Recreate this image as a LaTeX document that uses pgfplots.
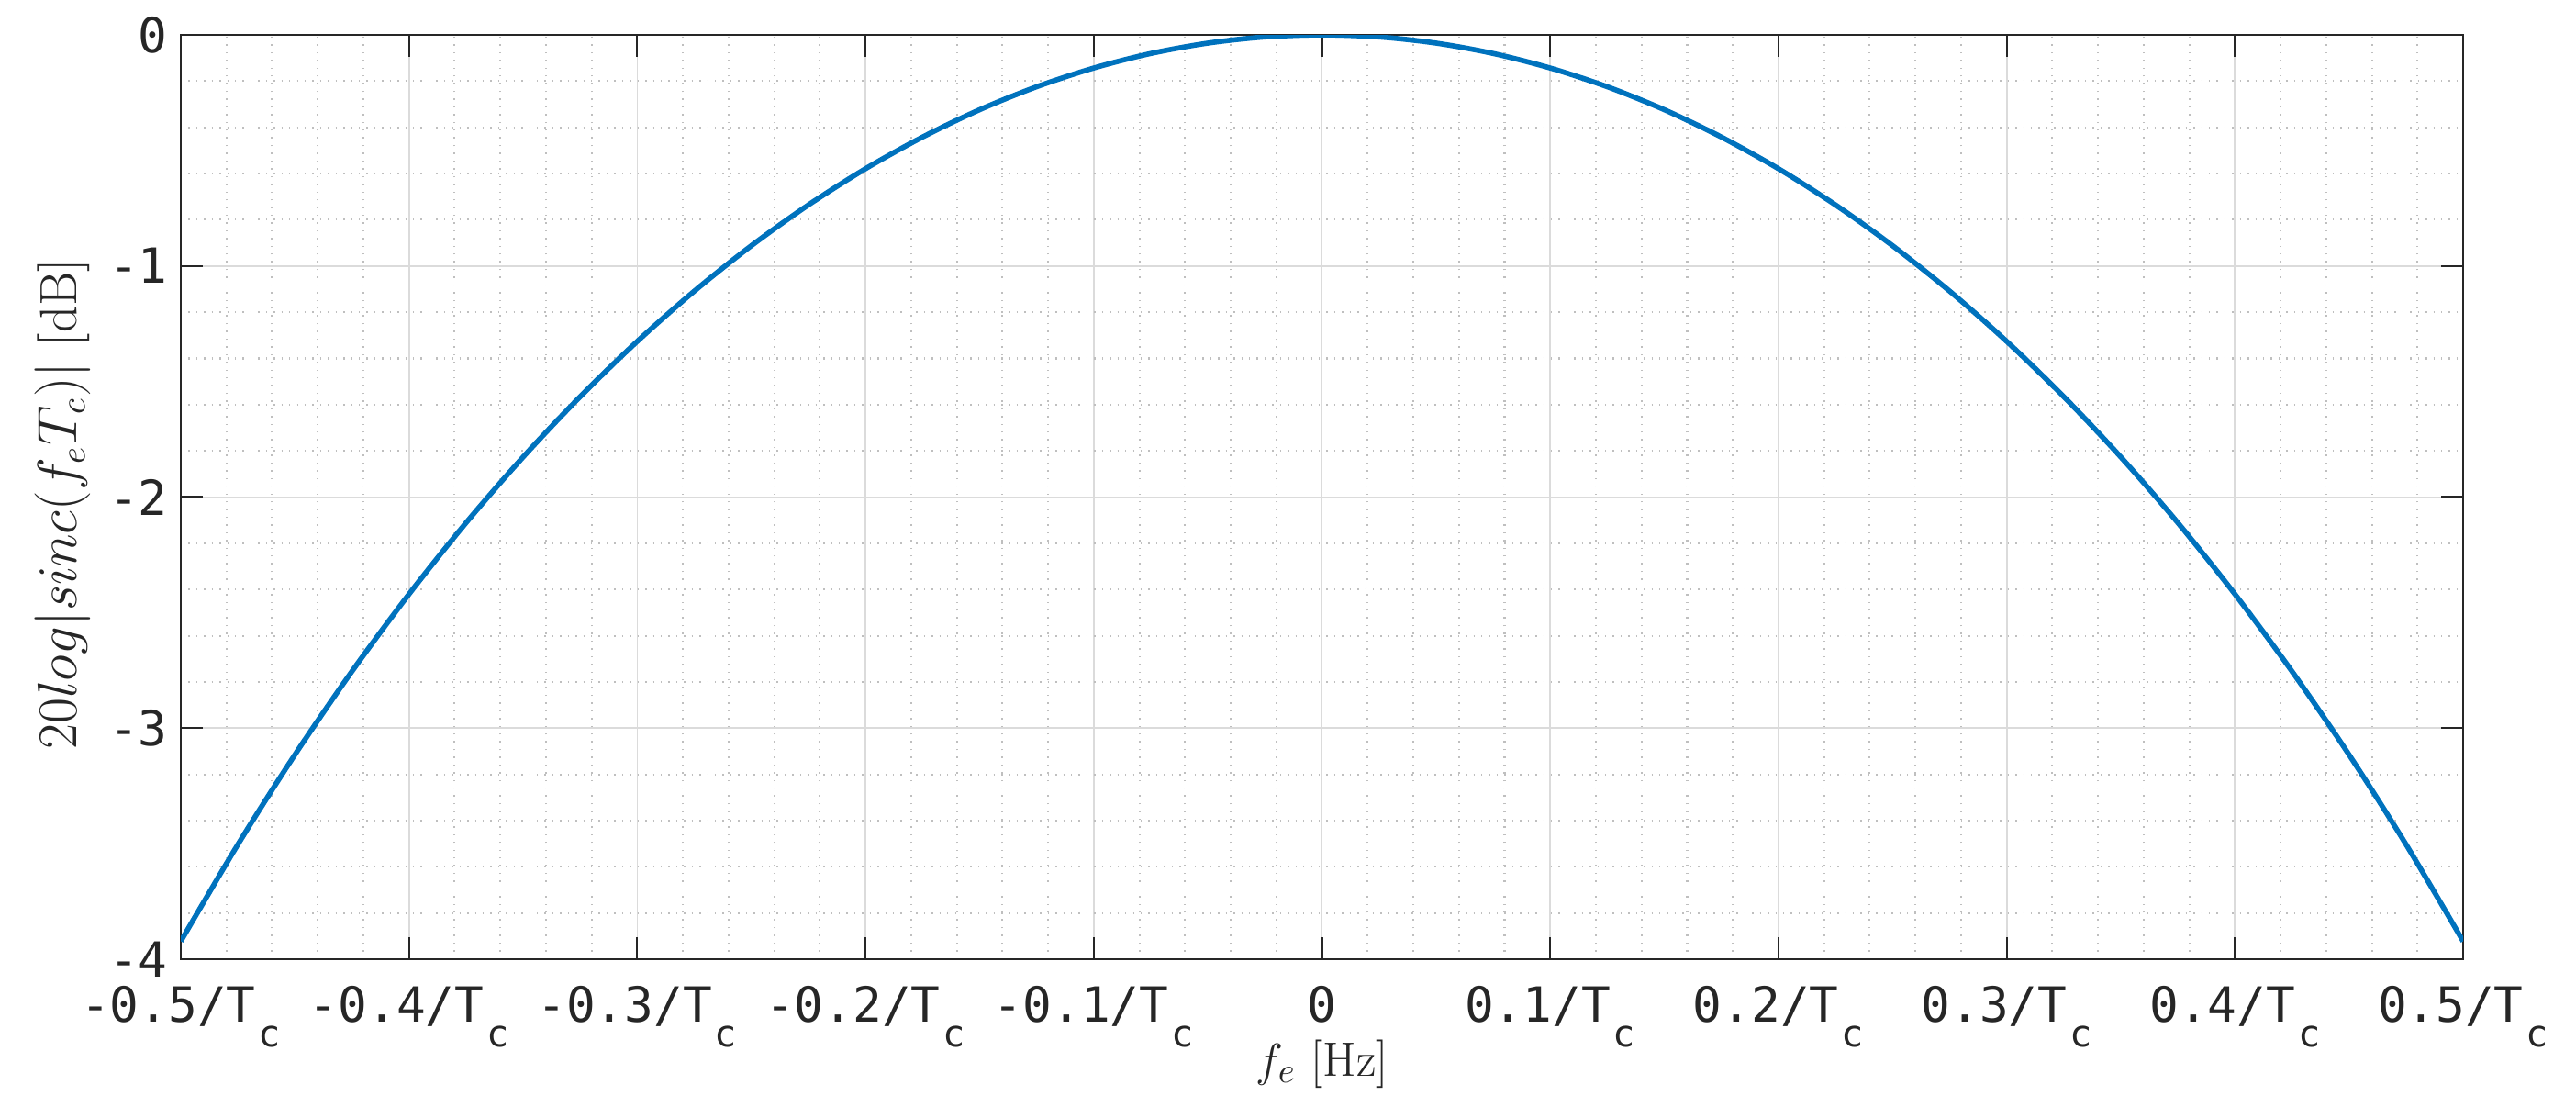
\documentclass[border=0pt]{standalone}
\usepackage{fontspec}
\setmonofont{DejaVu Sans Mono}
\usepackage{pgfplots}
\pgfplotsset{compat=1.18}
\definecolor{mblue}{rgb}{0,0.447,0.741}
\definecolor{axgray}{rgb}{0.15,0.15,0.15}
\newcommand{\Tc}{T\hspace{0.03cm}\raisebox{-0.27cm}{\fontsize{11.5}{12}\selectfont c}}
\begin{document}
\begin{tikzpicture}
\useasboundingbox (0,0) rectangle (28.07cm,12.17cm);
\begin{axis}[
  scale only axis,
  width=24.87cm, height=10.07cm,
  anchor=south west, at={(1.97cm,1.72cm)},
  xmin=-0.5, xmax=0.5, ymin=-4, ymax=0,
  xtick={-0.5,-0.4,-0.3,-0.2,-0.1,0,0.1,0.2,0.3,0.4,0.5},
  xticklabels={-0.5/\Tc,-0.4/\Tc,-0.3/\Tc,-0.2/\Tc,-0.1/\Tc,0,0.1/\Tc,0.2/\Tc,0.3/\Tc,0.4/\Tc,0.5/\Tc},
  ytick={-4,-3,-2,-1,0},
  yticklabels={-4,-3,-2,-1,0},
  minor x tick num=4, minor y tick num=4,
  grid=both,
  major grid style={solid, line width=0.5pt, gray!28},
  minor grid style={dotted, line width=0.6pt, gray!50},
  tick align=inside,
  major tick length=0.24cm,
  minor tick length=0pt,
  tick style={axgray, line width=0.6pt},
  axis line style={axgray, line width=0.6pt},
  every tick label/.style={font=\ttfamily\fontsize{15}{18}\selectfont, text=axgray},
  xticklabel style={yshift=-0.17cm},
  yticklabel style={xshift=-0.02cm},
  xlabel={$f_e$ [Hz]},
  ylabel={$20log|sinc(f_eT_c)|$ [dB]},
  xlabel style={font=\fontsize{15}{18}\selectfont, text=axgray,
    at={(axis description cs:0.5,0)}, anchor=base, yshift=-1.27cm},
  ylabel style={font=\fontsize{16.2}{19}\selectfont, text=axgray,
    at={(axis description cs:0,0.5)}, anchor=center, yshift=1.29cm, xshift=-0.08cm},
]
\addplot[mblue, line width=1.6pt, smooth] coordinates {
(-0.5,-3.9224) (-0.475,-3.5037) (-0.45,-3.1149) (-0.425,-2.7542) (-0.4,-2.4201)
(-0.375,-2.1113) (-0.35,-1.8267) (-0.325,-1.5654) (-0.3,-1.3263) (-0.275,-1.1088)
(-0.25,-0.9121) (-0.225,-0.7358) (-0.2,-0.5792) (-0.175,-0.4421) (-0.15,-0.3239)
(-0.125,-0.2244) (-0.1,-0.1434) (-0.075,-0.0805) (-0.05,-0.0357) (-0.025,-0.0089)
(0,0)
(0.025,-0.0089) (0.05,-0.0357) (0.075,-0.0805) (0.1,-0.1434) (0.125,-0.2244)
(0.15,-0.3239) (0.175,-0.4421) (0.2,-0.5792) (0.225,-0.7358) (0.25,-0.9121)
(0.275,-1.1088) (0.3,-1.3263) (0.325,-1.5654) (0.35,-1.8267) (0.375,-2.1113)
(0.4,-2.4201) (0.425,-2.7542) (0.45,-3.1149) (0.475,-3.5037) (0.5,-3.9224)
};
\end{axis}
\end{tikzpicture}
\end{document}
